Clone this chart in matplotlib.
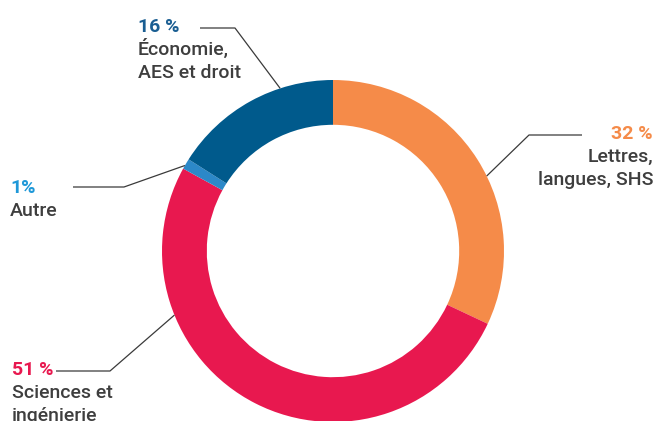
import matplotlib
matplotlib.use("Agg")
import matplotlib.pyplot as plt
import numpy as np

categories = ["Lettres,\nlangues, SHS", "Sciences et\ningénierie", "Autre", "Économie,\nAES et droit"]
values = [32, 51, 1, 16]
pct_labels = ["32 %", "51 %", "1%", "16 %"]
colors = ["#F58B49", "#E8184F", "#2C88C8", "#005A8C"]
label_colors = ["#F58B49", "#E8184F", "#1E98D8", "#1A5E92"]

W, H = 657, 421
fig = plt.figure(figsize=(W / 100, H / 100), dpi=100)
ax = fig.add_axes([0, 0, 1, 1])

cx, cy, R = 333, H - 251, 171
ax.pie(values, colors=colors, startangle=90, counterclock=False,
       center=(cx, cy), radius=R, wedgeprops=dict(width=R * 0.262, linewidth=0),
       frame=True)
ax.set_xlim(0, W)
ax.set_ylim(0, H)
ax.axis("off")

FONT = ["Roboto", "DejaVu Sans"]
fs = 14
txtc = "#3E3E3E"
linec = "#3A3A3A"

# label layout: (text x, pct baseline y px, align, elbow x, line start x, line y px, angle deg)
layout = [
    (653, 139, "right", 529, 582, 135, 26),
    (12, 375, "left", 110, 56, 371, 202),
    (10, 193, "left", 124, 73, 187, 150),
    (138, 32, "left", 235, 200, 28, 108),
]

for i, (tx, by, ha, ex, sx, ly, ang) in enumerate(layout):
    ax.text(tx, H - by, pct_labels[i], ha=ha, va="baseline", fontsize=fs,
            fontweight="bold", color=label_colors[i], family=FONT)
    for j, line in enumerate(categories[i].split("\n")):
        ax.text(tx, H - (by + 23 * (j + 1)), line, ha=ha, va="baseline",
                fontsize=fs, fontweight="medium", color=txtc, family=FONT)
    px = cx + R * np.cos(np.radians(ang))
    py = cy + R * np.sin(np.radians(ang))
    ax.plot([sx, ex, px], [H - ly, H - ly, py], color=linec, lw=0.9,
            solid_capstyle="butt")

fig.savefig("out.png", dpi=100, facecolor="white")
